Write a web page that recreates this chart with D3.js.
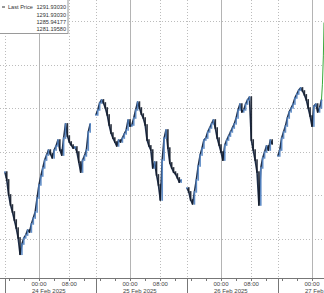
<!DOCTYPE html>
<html>
<head>
<meta charset="utf-8">
<script src="https://cdn.jsdelivr.net/npm/d3@7"></script>
<style>
  body { margin: 0; background: #fff; }
  svg { display: block; font-family: "Liberation Sans", Arial, sans-serif; }
</style>
</head>
<body>
<div class="main"></div>
<script>
// 30 minute bars, one array per session (each session opens 15:00)
const sessionStarts = ["2025-02-23T15:00", "2025-02-24T15:00", "2025-02-25T15:00", "2025-02-26T15:00"]

const session1 = [1285.07, 1284.71, 1284.02, 1283.56, 1283.24, 1282.87, 1282.50, 1282.05, 1281.30, 1281.77,
  1282.05, 1282.18, 1282.41, 1282.32, 1282.69, 1282.96, 1283.24, 1283.88, 1284.48, 1284.89,
  1285.26, 1285.62, 1285.85, 1286.08, 1285.90, 1285.72, 1286.08, 1286.27, 1286.54, 1286.08,
  1285.85, 1286.63, 1287.28, 1286.72, 1286.45, 1286.31, 1286.17, 1286.22, 1285.99, 1285.53,
  1285.07, 1285.62, 1285.81, 1286.08, 1286.91, 1287.28]

const session2 = [1287.69, 1287.92, 1288.24, 1288.38, 1288.24, 1288.01, 1287.69, 1287.23, 1286.86, 1286.63,
  1286.45, 1286.27, 1286.54, 1286.45, 1286.63, 1286.82, 1287.00, 1287.46, 1287.18, 1287.23,
  1287.55, 1287.92, 1288.28, 1288.01, 1287.73, 1287.55, 1287.23, 1286.54, 1286.27, 1286.08,
  1285.26, 1285.53, 1284.94, 1284.48, 1283.79, 1285.62, 1286.63, 1287.00, 1286.17, 1285.49,
  1285.26, 1285.07, 1284.98, 1284.80, 1284.61, 1284.71]

const session3 = [1284.34, 1284.16, 1283.79, 1283.61, 1284.16, 1284.71, 1285.35, 1285.85, 1286.17, 1286.54,
  1286.63, 1286.91, 1287.09, 1287.28, 1287.46, 1287.09, 1286.63, 1286.31, 1285.99, 1285.62,
  1286.31, 1286.54, 1286.72, 1286.91, 1287.09, 1287.28, 1287.55, 1287.92, 1288.19, 1287.83,
  1287.92, 1288.19, 1288.38, 1288.51, 1286.54, 1286.08, 1285.62, 1285.07, 1283.56, 1285.26,
  1285.72, 1285.99, 1286.27, 1286.08, 1286.54, 1286.36]

const session4 = [1285.81, 1286.08, 1286.63, 1286.91, 1287.18, 1287.55, 1287.83, 1288.01, 1288.19, 1288.47,
  1288.65, 1288.83, 1288.93, 1288.79, 1288.61, 1288.38, 1288.01, 1287.64, 1287.18, 1288.10,
  1288.19, 1287.83, 1288.01, 1288.38]

// live tail drawn in green
const tailTimes = ["2025-02-27T02:30", "2025-02-27T02:45", "2025-02-27T03:00", "2025-02-27T03:10"]
const tailValues = [1288.38, 1289.10, 1290.40, 1291.93]

const priceTicks = [1282, 1284, 1286, 1288, 1290, 1292]
const legendLabel = "Last Price"
const legendValues = ["1291.93030", "1291.93030", "1285.94177", "1281.19580"]

const width = 324
const height = 293
const plotBottom = 278

const parse = d3.timeParse("%Y-%m-%dT%H:%M")

const x = d3.scaleTime()
  .domain([parse("2025-02-23T13:43"), parse("2025-02-27T03:10")])
  .range([0, width])

const y = d3.scaleLinear()
  .domain([1282, 1292])
  .range([239, 21])

// build candles, open = previous close
const sessions = [session1, session2, session3, session4]
let bars = []
let paths = []
sessions.forEach((s, k) => {
  const t0 = parse(sessionStarts[k])
  const pts = []
  s.forEach((c, i) => {
    const o = i === 0 ? c : s[i - 1]
    const t = d3.timeMinute.offset(t0, 30 * i)
    bars.push({t: t, o: o, c: c})
    pts.push([t, c])
  })
  paths.push(pts)
})

const svg = d3.select(".main")
  .append("svg")
    .attr("width", width)
    .attr("height", height)

// horizontal grid
svg.append("g")
  .selectAll("line")
  .data(priceTicks)
  .join("line")
    .attr("x1", 0)
    .attr("x2", width)
    .attr("y1", d => Math.round(y(d)) + 0.5)
    .attr("y2", d => Math.round(y(d)) + 0.5)
    .attr("stroke", "#bcbcbc")
    .attr("stroke-dasharray", "1,2")

// vertical grid
const days = d3.timeDay.range(parse("2025-02-24T00:00"), parse("2025-02-28T00:00"))
const eights = days.map(d => d3.timeHour.offset(d, 8))
const seps = days.map(d => d3.timeHour.offset(d, -9))

const vgrid = svg.append("g")
vgrid.selectAll(".solid")
  .data(days)
  .join("line")
    .attr("class", "solid")
    .attr("x1", d => Math.round(x(d)) + 0.5)
    .attr("x2", d => Math.round(x(d)) + 0.5)
    .attr("y1", 0)
    .attr("y2", plotBottom)
    .attr("stroke", "#b4b4b4")

vgrid.selectAll(".dot")
  .data(eights.concat(seps))
  .join("line")
    .attr("class", "dot")
    .attr("x1", d => Math.round(x(d)) + 0.5)
    .attr("x2", d => Math.round(x(d)) + 0.5)
    .attr("y1", 0)
    .attr("y2", plotBottom)
    .attr("stroke", "#bcbcbc")
    .attr("stroke-dasharray", "1,2")

const line = d3.line().x(d => x(d[0])).y(d => y(d[1]))

// close line under the candles
svg.append("g")
  .selectAll("path")
  .data(paths)
  .join("path")
    .attr("fill", "none")
    .attr("stroke", "#1f2f4a")
    .attr("stroke-width", 1.6)
    .attr("stroke-linejoin", "round")
    .attr("d", line)

// candles
svg.append("g")
  .selectAll("rect")
  .data(bars)
  .join("rect")
    .attr("x", d => x(d.t) - 0.8)
    .attr("width", 1.6)
    .attr("y", d => Math.min(y(d.o), y(d.c)) - 0.8)
    .attr("height", d => Math.abs(y(d.o) - y(d.c)) + 1.6)
    .attr("fill", d => d.c >= d.o ? "#5283c2" : "#141c2a")
    .attr("opacity", 0.9)

// green tail
svg.append("path")
  .datum(tailTimes.map((t, i) => [parse(t), tailValues[i]]))
  .attr("fill", "none")
  .attr("stroke", "#3aa83a")
  .attr("stroke-width", 1)
  .attr("d", line)

// bottom axis
const axis = svg.append("g")
  .attr("transform", `translate(0, ${plotBottom})`)

axis.append("line")
  .attr("x1", 0)
  .attr("x2", width)
  .attr("y1", 0.5)
  .attr("y2", 0.5)
  .attr("stroke", "#777")

const smallTicks = d3.timeHour.every(4).range(x.domain()[0], x.domain()[1])
axis.selectAll(".small")
  .data(smallTicks)
  .join("line")
    .attr("class", "small")
    .attr("x1", d => Math.round(x(d)) + 0.5)
    .attr("x2", d => Math.round(x(d)) + 0.5)
    .attr("y1", 0)
    .attr("y2", 3)
    .attr("stroke", "#777")

axis.selectAll(".tall")
  .data(seps)
  .join("line")
    .attr("class", "tall")
    .attr("x1", d => Math.round(x(d)) + 0.5)
    .attr("x2", d => Math.round(x(d)) + 0.5)
    .attr("y1", 0)
    .attr("y2", height - plotBottom)
    .attr("stroke", "#777")

axis.selectAll(".hlab")
  .data(days.concat(eights).filter(d => x(d) < width - 6))
  .join("text")
    .attr("class", "hlab")
    .attr("x", d => x(d))
    .attr("y", 7.8)
    .attr("text-anchor", "middle")
    .attr("font-size", "6px")
    .attr("fill", "#444")
    .text(d3.timeFormat("%H:%M"))

axis.selectAll(".dlab")
  .data(days.filter(d => x(d) < width))
  .join("text")
    .attr("class", "dlab")
    .attr("x", d => x(d) - 7)
    .attr("y", 14.5)
    .attr("font-size", "6px")
    .attr("fill", "#444")
    .text(d3.timeFormat("%-d %b %Y"))

// legend box
const legend = svg.append("g")
legend.append("rect")
  .attr("x", -6)
  .attr("y", -1)
  .attr("width", 74)
  .attr("height", 34.5)
  .attr("fill", "#fff")
  .attr("stroke", "#9a9a9a")

legend.append("line")
  .attr("x1", 2)
  .attr("x2", 5)
  .attr("y1", 7)
  .attr("y2", 7)
  .attr("stroke", "#333")

legend.append("text")
  .attr("x", 8)
  .attr("y", 9.2)
  .attr("font-size", "5.6px")
  .attr("fill", "#333")
  .text(legendLabel)

legend.selectAll(".val")
  .data(legendValues)
  .join("text")
    .attr("class", "val")
    .attr("x", 66)
    .attr("y", (d, i) => 9.2 + i * 7.4)
    .attr("text-anchor", "end")
    .attr("font-size", "5.6px")
    .attr("fill", "#333")
    .text(d => d)
</script>
</body>
</html>
